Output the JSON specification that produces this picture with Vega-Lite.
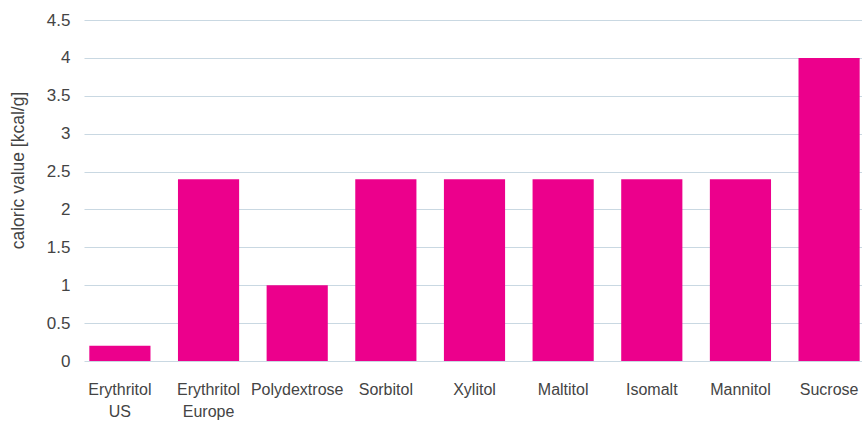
{
  "$schema": "https://vega.github.io/schema/vega-lite/v6.json",
  "width": 781,
  "height": 341,
  "autosize": {"type": "none"},
  "padding": {"left": 84, "top": 20, "right": 0, "bottom": 61},
  "background": "white",
  "config": {"view": {"stroke": null}, "font": "Liberation Sans"},
  "data": {
    "values": [
      {"sweetener": "Erythritol\nUS", "value": 0.2},
      {"sweetener": "Erythritol\nEurope", "value": 2.4},
      {"sweetener": "Polydextrose", "value": 1},
      {"sweetener": "Sorbitol", "value": 2.4},
      {"sweetener": "Xylitol", "value": 2.4},
      {"sweetener": "Maltitol", "value": 2.4},
      {"sweetener": "Isomalt", "value": 2.4},
      {"sweetener": "Mannitol", "value": 2.4},
      {"sweetener": "Sucrose", "value": 4}
    ]
  },
  "mark": {"type": "bar", "color": "#EC008C"},
  "encoding": {
    "x": {
      "field": "sweetener",
      "type": "nominal",
      "sort": null,
      "scale": {"paddingInner": 0.31, "paddingOuter": 0.06},
      "axis": {
        "title": null,
        "labelAngle": 0,
        "domain": false,
        "ticks": false,
        "labelPadding": 20,
        "labelFontSize": 16,
        "labelColor": "#444444",
        "labelLineHeight": 22,
        "labelBaseline": "top",
        "labelExpr": "split(datum.label, '\\n')"
      }
    },
    "y": {
      "field": "value",
      "type": "quantitative",
      "scale": {"domain": [0, 4.5]},
      "axis": {
        "title": "caloric value [kcal/g]",
        "titleFontSize": 17.5,
        "titleFontWeight": "normal",
        "titleColor": "#444444",
        "titleX": -57,
        "titleY": 150,
        "values": [0, 0.5, 1, 1.5, 2, 2.5, 3, 3.5, 4, 4.5],
        "format": ".1~f",
        "domain": false,
        "ticks": false,
        "labelPadding": 14,
        "labelFontSize": 17,
        "labelColor": "#444444",
        "gridColor": "#c9d8e2",
        "gridWidth": 1.2
      }
    }
  }
}
